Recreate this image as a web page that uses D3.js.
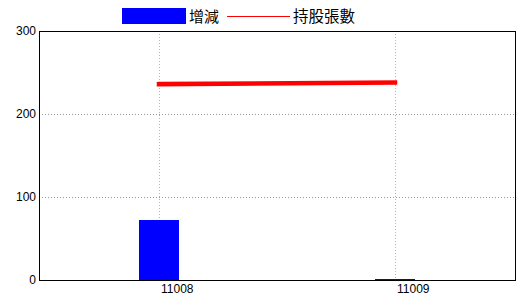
<!DOCTYPE html>
<html>
<head>
<meta charset="utf-8">
<script src="https://cdn.jsdelivr.net/npm/d3@7"></script>
<style>
  body { margin: 0; background: #fff; }
  svg { display: block; }
</style>
</head>
<body>
<svg id="chart" width="520" height="300"></svg>
<script>
const categories = ["11008", "11009"];
const changeValues = [72, 1];
const holdingValues = [236, 238];
const yTicks = [0, 100, 200, 300];
const legendLabels = ["增減", "持股張數"];

(function () {
const svg = d3.select("#chart");
const pL = 39, pR = 516, pT = 31, pB = 280;

const x = d3.scalePoint().domain(categories).range([41, 513]).padding(0.5);
const y = d3.scaleLinear().domain([0, 300]).range([pB, pT]);

const fontAxis = "'Liberation Sans', Arial, sans-serif";

// horizontal gridlines
svg.append("g").selectAll("line").data(yTicks.filter(d => d > 0 && d < 300)).join("line")
  .attr("x1", pL).attr("x2", pR)
  .attr("y1", d => Math.round(y(d)) + 0.5).attr("y2", d => Math.round(y(d)) + 0.5)
  .attr("stroke", "#999").attr("stroke-dasharray", "1,2").attr("shape-rendering", "crispEdges");

// vertical gridlines
svg.append("g").selectAll("line").data(categories).join("line")
  .attr("x1", d => Math.round(x(d)) + 0.5).attr("x2", d => Math.round(x(d)) + 0.5)
  .attr("y1", pT).attr("y2", pB)
  .attr("stroke", "#a8b8c8").attr("stroke-dasharray", "1,2").attr("shape-rendering", "crispEdges");

// bars
const barW = 40;
svg.append("g").selectAll("rect").data(categories).join("rect")
  .attr("x", d => x(d) - barW / 2)
  .attr("y", (d, i) => y(changeValues[i]))
  .attr("width", barW)
  .attr("height", (d, i) => pB - y(changeValues[i]))
  .attr("fill", "#0000ff")
  .attr("shape-rendering", "crispEdges");

// line
const line = d3.line().x((d, i) => x(categories[i])).y(d => y(d));
svg.append("path").datum(holdingValues)
  .attr("d", line)
  .attr("fill", "none")
  .attr("stroke", "#ff0000")
  .attr("stroke-width", 4.5)
  .attr("stroke-linecap", "square");

// frame
svg.append("rect")
  .attr("x", pL + 0.5).attr("y", pT + 0.5)
  .attr("width", pR - pL - 1).attr("height", pB - pT)
  .attr("fill", "none").attr("stroke", "#000").attr("stroke-width", 1.2)
  .attr("shape-rendering", "crispEdges");

// y axis labels
svg.append("g").selectAll("text").data(yTicks).join("text")
  .attr("x", pL - 3)
  .attr("y", d => y(d) + 4)
  .attr("text-anchor", "end")
  .attr("font-family", fontAxis)
  .attr("font-size", 12)
  .attr("fill", "#000")
  .text(d => d);

// x axis labels
svg.append("g").selectAll("text").data(categories).join("text")
  .attr("x", d => x(d) + 2)
  .attr("y", 293)
  .attr("text-anchor", "start")
  .attr("font-family", fontAxis)
  .attr("font-size", 12)
  .attr("fill", "#000")
  .text(d => d);

// legend
const lg = svg.append("g");
lg.append("rect").attr("x", 122).attr("y", 8).attr("width", 64).attr("height", 16).attr("fill", "#0000ff");
lg.append("text").attr("x", 189).attr("y", 22)
  .attr("font-family", "'Noto Sans CJK TC', sans-serif").attr("font-size", 15).text(legendLabels[0]);
lg.append("line").attr("x1", 227).attr("x2", 290).attr("y1", 16.5).attr("y2", 16.5)
  .attr("stroke", "#ff0000").attr("stroke-width", 1.2);
lg.append("text").attr("x", 293).attr("y", 22)
  .attr("font-family", "'Noto Sans CJK TC', sans-serif").attr("font-size", 15.5).text(legendLabels[1]);
})();
</script>
</body>
</html>
